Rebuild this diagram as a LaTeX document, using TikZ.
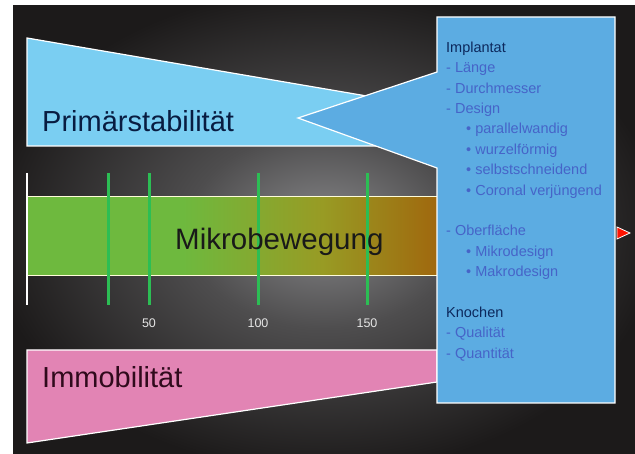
\documentclass[tikz,border=0pt]{standalone}
\usepackage{fontspec}
\setmainfont{Liberation Sans}
\usetikzlibrary{positioning}

\definecolor{stabblue}{RGB}{122,206,242}
\definecolor{calloutblue}{RGB}{92,172,226}
\definecolor{immopink}{RGB}{226,132,180}
\definecolor{mbgreen}{RGB}{110,185,62}
\definecolor{mbolive}{RGB}{152,155,36}
\definecolor{mbbrown}{RGB}{160,104,14}
\definecolor{tickgreen}{RGB}{44,190,84}
\definecolor{headnavy}{RGB}{12,40,92}
\definecolor{itemblue}{RGB}{70,100,200}
\definecolor{immotext}{RGB}{48,10,28}
\definecolor{glowlight}{RGB}{136,136,138}
\definecolor{glowmid}{RGB}{78,77,78}
\definecolor{glowdark}{RGB}{28,26,26}

\pgfdeclareradialshading{stageglow}{\pgfpoint{0bp}{0bp}}{color(0bp)=(glowlight); color(11bp)=(glowmid); color(27bp)=(glowdark); color(50bp)=(glowdark)}
\pgfdeclarehorizontalshading{mbfade}{100bp}{color(0bp)=(mbgreen); color(44bp)=(mbgreen); color(61bp)=(mbolive); color(75bp)=(mbbrown); color(100bp)=(mbbrown)}

\begin{document}
\begin{tikzpicture}[
    x=1pt, y=-1pt,
    every node/.style={inner sep=0pt},
    wedge/.style={draw=white, line width=1.2pt, line join=miter},
    bigtext/.style={font=\fontsize{29}{34}\selectfont, anchor=base west},
    tick/.style={draw=tickgreen, line width=3pt},
    ticklabel/.style={font=\fontsize{12.5}{15}\selectfont, text=black!10},
    callouttext/.style={align=left, text=itemblue, font=\fontsize{14.5}{20.4}\selectfont}
]

\useasboundingbox (0,0) rectangle (635,454);
\fill[white] (0,0) rectangle (635,454);
\shade[shading=stageglow] (13,6) rectangle (635,454);

% Primaerstabilitaet
\path[wedge, fill=stabblue] (27,38) -- (437,108) -- (437,146) -- (27,146) -- cycle;

% Mikrobewegung
\shade[shading=mbfade, draw=yellow!15!white, line width=1pt] (27,197) rectangle (437,276);
\draw[white, line width=1.5pt] (27,173) -- (27,305);
\foreach \x/\lab in {108/{}, 149/50, 258/100, 367/150} {
    \coordinate (top\x) at (\x,173);
    \coordinate (end\x) at (\x,305);
    \draw[tick] (top\x) -- (end\x);
    \node[ticklabel, below=14pt of end\x] (lab\x) {\lab};
}

% Immobilitaet
\path[wedge, fill=immopink] (27,350) -- (437,350) -- (437,382) -- (27,443) -- cycle;

% callout
\path[wedge, fill=calloutblue] (437,17) -- (615,17) -- (615,403) -- (437,403)
    -- (437,168) -- (298,118) -- (437,72) -- cycle;
\path[fill=red!85!orange, draw=white, line width=0.8pt] (617,227) -- (630,233) -- (617,239) -- cycle;

\node[bigtext, text=headnavy!70!black] (stab) at (42,132) {Primärstabilität};
\node[bigtext, font=\fontsize{29.5}{34}\selectfont, text=black!90] (mikro) at (175,250) {Mikrobewegung};
\node[bigtext, text=immotext] (immo) at (42,388) {Immobilität};

\node[callouttext, anchor=north west] (factors) at (446,41.5) {%
    \textcolor{headnavy}{Implantat}\\
    - Länge\\
    - Durchmesser\\
    - Design\\
    \hspace*{20pt}\textbullet\ parallelwandig\\
    \hspace*{20pt}\textbullet\ wurzelförmig\\
    \hspace*{20pt}\textbullet\ selbstschneidend\\
    \hspace*{20pt}\textbullet\ Coronal verjüngend\\[20.4pt]
    - Oberfläche\\
    \hspace*{20pt}\textbullet\ Mikrodesign\\
    \hspace*{20pt}\textbullet\ Makrodesign\\[20.4pt]
    \textcolor{headnavy}{Knochen}\\
    - Qualität\\
    - Quantität};

\end{tikzpicture}
\end{document}
